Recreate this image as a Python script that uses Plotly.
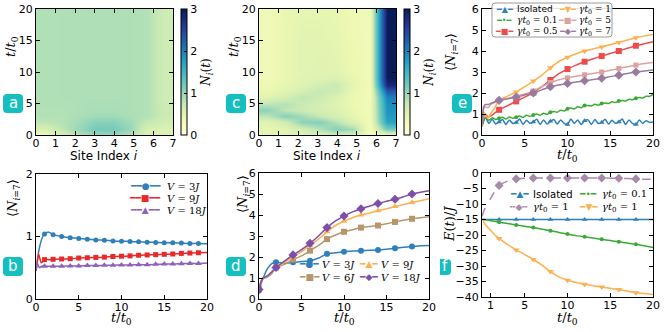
import plotly.graph_objects as go

W, H = 664, 332

# ---------------- data ----------------
site_centers = [0.4375, 1.3125, 2.1875, 3.0625, 3.9375, 4.8125, 5.6875, 6.5625]

heat_t_a = [0, 1, 2, 3, 4, 6, 10, 20]
heat_a = [
    [0.35, 0.60, 0.85, 1.00, 1.00, 0.85, 0.55, 0.55],
    [0.60, 0.80, 1.00, 1.18, 1.18, 1.00, 0.60, 0.55],
    [0.80, 0.85, 0.95, 1.08, 1.08, 0.95, 0.75, 0.65],
    [0.85, 0.85, 0.90, 0.95, 0.95, 0.90, 0.85, 0.70],
    [0.86, 0.86, 0.88, 0.90, 0.90, 0.88, 0.86, 0.70],
    [0.87, 0.88, 0.88, 0.88, 0.88, 0.88, 0.86, 0.68],
    [0.87, 0.88, 0.88, 0.88, 0.88, 0.88, 0.86, 0.68],
    [0.87, 0.88, 0.88, 0.88, 0.88, 0.88, 0.86, 0.68],
]

heat_t_c = [0, 1, 2, 3, 4, 5, 6, 7, 8, 9, 10, 15, 20]
heat_c = [
    [0.45, 0.45, 0.50, 0.55, 0.65, 0.60, 0.20, 0.40],
    [0.45, 0.50, 0.65, 0.85, 1.10, 0.95, 0.25, 1.20],
    [0.50, 0.65, 1.05, 1.10, 0.85, 0.55, 0.30, 1.70],
    [0.80, 1.10, 0.95, 0.75, 0.60, 0.45, 0.30, 1.80],
    [1.05, 0.80, 0.70, 0.62, 0.55, 0.40, 0.30, 1.85],
    [0.80, 0.85, 0.72, 0.62, 0.52, 0.38, 0.30, 1.90],
    [0.50, 0.62, 0.80, 0.70, 0.55, 0.38, 0.30, 2.00],
    [0.40, 0.50, 0.62, 0.76, 0.68, 0.40, 0.30, 2.30],
    [0.35, 0.45, 0.52, 0.62, 0.72, 0.45, 0.30, 2.80],
    [0.32, 0.42, 0.50, 0.52, 0.56, 0.42, 0.30, 3.00],
    [0.30, 0.42, 0.48, 0.50, 0.48, 0.38, 0.30, 3.00],
    [0.30, 0.42, 0.48, 0.48, 0.45, 0.35, 0.30, 3.00],
    [0.30, 0.40, 0.45, 0.45, 0.42, 0.33, 0.30, 3.00],
]

# panel b
b_t = [0, 0.15, 0.3, 0.45, 0.6, 0.8, 1, 1.5, 2, 3, 4, 5, 6, 7, 8, 9, 10,
       11, 12, 13, 14, 15, 16, 17, 18, 19, 20]
b_v3 = [0.45, 0.60, 0.75, 0.85, 0.93, 1.00, 1.04, 1.07, 1.03, 1.00, 0.98, 0.97,
        0.955, 0.945, 0.94, 0.93, 0.925, 0.92, 0.915, 0.91, 0.905, 0.90, 0.90,
        0.895, 0.89, 0.89, 0.885]
b_v9 = [0.45, 0.60, 0.72, 0.65, 0.58, 0.60, 0.63, 0.63, 0.635, 0.64, 0.645,
        0.655, 0.66, 0.665, 0.67, 0.68, 0.685, 0.69, 0.70, 0.705, 0.71, 0.715,
        0.72, 0.73, 0.735, 0.74, 0.745]
b_v18 = [0.45, 0.58, 0.52, 0.50, 0.52, 0.53, 0.525, 0.525, 0.525, 0.525, 0.53,
         0.53, 0.535, 0.535, 0.54, 0.54, 0.545, 0.545, 0.55, 0.55, 0.555, 0.56,
         0.56, 0.565, 0.57, 0.57, 0.575]
b_marks = [1, 2, 3, 4, 5, 6, 7, 8, 9, 10, 11, 12, 13, 14, 15, 16, 17, 18, 19]

# panel d
d_t = [0, 0.15, 0.3, 0.5, 0.75, 1, 1.5, 2, 3, 4, 5, 6, 7, 8, 9, 10, 11, 12,
       13, 14, 15, 16, 17, 18, 19, 20]
d_v3 = [0.40, 0.60, 0.80, 1.00, 1.25, 1.45, 1.68, 1.75, 1.70, 1.75, 1.78, 1.82,
        1.95, 2.15, 2.20, 2.25, 2.28, 2.30, 2.32, 2.33, 2.37, 2.42, 2.47, 2.50,
        2.53, 2.55]
d_v6 = [0.50, 0.70, 0.85, 1.00, 1.00, 1.05, 1.20, 1.50, 1.65, 1.88, 2.05, 2.30,
        2.55, 2.85, 3.05, 3.20, 3.30, 3.40, 3.45, 3.50, 3.58, 3.67, 3.75, 3.82,
        3.87, 3.92]
d_v9 = [0.50, 0.75, 0.90, 1.00, 1.05, 1.10, 1.30, 1.50, 1.75, 2.00, 2.25, 2.55,
        2.85, 3.20, 3.50, 3.70, 3.87, 4.00, 4.10, 4.20, 4.30, 4.40, 4.50, 4.60,
        4.68, 4.77]
d_v18 = [0.45, 0.70, 0.90, 1.00, 1.05, 1.10, 1.30, 1.50, 1.80, 2.10, 2.35, 2.65,
         3.00, 3.40, 3.72, 3.95, 4.15, 4.30, 4.42, 4.55, 4.65, 4.75, 4.87, 5.00,
         5.08, 5.15]
d_marks = [0, 2, 4, 6, 8, 10, 12, 14, 16, 18]

# panel e
e_t_osc = [0.0, 0.4, 0.8, 1.2, 1.6, 2.0, 2.4, 2.8, 3.2, 3.6, 4.0, 4.4, 4.8, 5.2,
           5.6, 6.0, 6.4, 6.8, 7.2, 7.6, 8.0, 8.4, 8.8, 9.2, 9.6, 10.0, 10.4,
           10.8, 11.2, 11.6, 12.0, 12.4, 12.8, 13.2, 13.6, 14.0, 14.4, 14.8,
           15.2, 15.6, 16.0, 16.4, 16.8, 17.2, 17.6, 18.0, 18.4, 18.8, 19.2,
           19.6, 20.0]
e_iso = [0.40, 0.85, 0.55, 0.75, 0.52, 0.62, 0.74, 0.50, 0.72, 0.55, 0.60, 0.76,
         0.50, 0.70, 0.56, 0.62, 0.75, 0.50, 0.72, 0.52, 0.65, 0.74, 0.52, 0.72,
         0.55, 0.50, 0.76, 0.55, 0.72, 0.50, 0.68, 0.72, 0.50, 0.74, 0.55, 0.60,
         0.75, 0.52, 0.70, 0.56, 0.62, 0.76, 0.50, 0.72, 0.55, 0.50, 0.72, 0.55,
         0.68, 0.60, 0.62]
e_g01 = [0.45, 0.85, 0.70, 0.82, 0.74, 0.80, 0.84, 0.76, 0.86, 0.80, 0.85, 0.90,
         0.84, 0.94, 0.88, 0.95, 1.00, 0.94, 1.04, 0.98, 1.08, 1.12, 1.08, 1.18,
         1.14, 1.25, 1.28, 1.24, 1.34, 1.30, 1.40, 1.40, 1.38, 1.46, 1.42, 1.50,
         1.52, 1.50, 1.58, 1.55, 1.62, 1.64, 1.62, 1.70, 1.68, 1.75, 1.78, 1.76,
         1.85, 1.84, 1.93]
e_t = [0, 0.2, 0.4, 0.7, 1, 1.5, 2, 3, 4, 5, 6, 7, 8, 9, 10, 11, 12, 13, 14, 15,
       16, 17, 18, 19, 20]
e_g05 = [0.45, 0.90, 1.00, 0.85, 0.90, 1.05, 1.20, 1.40, 1.60, 1.80, 2.02, 2.30,
         2.62, 2.92, 3.14, 3.33, 3.49, 3.63, 3.76, 3.88, 4.00, 4.13, 4.25, 4.35,
         4.44]
e_g1 = [0.40, 1.10, 0.95, 0.80, 1.00, 1.30, 1.65, 1.85, 2.05, 2.30, 2.57, 2.85,
        3.20, 3.50, 3.70, 3.87, 4.00, 4.10, 4.19, 4.30, 4.41, 4.52, 4.63, 4.72,
        4.79]
e_g5 = [0.50, 1.25, 1.35, 1.30, 1.45, 1.55, 1.65, 1.75, 1.85, 1.95, 2.10, 2.30,
        2.50, 2.63, 2.72, 2.80, 2.87, 2.93, 3.00, 3.08, 3.17, 3.25, 3.33, 3.40,
        3.45]
e_g7 = [0.50, 1.35, 1.45, 1.45, 1.50, 1.58, 1.65, 1.72, 1.80, 1.90, 2.00, 2.15,
        2.30, 2.38, 2.45, 2.52, 2.58, 2.64, 2.70, 2.78, 2.85, 2.93, 3.00, 3.05,
        3.10]
e_marks = [2, 4, 6, 8, 10, 12, 14, 16, 18]

# panel f
f_t = [0, 0.25, 0.5, 1, 1.5, 2, 3, 4, 5, 6, 7, 8, 9, 10, 11, 12, 13, 14, 15,
       16, 17, 18, 19, 20]
f_iso = [-15.0, -15.0, -15.0, -15.0, -15.0, -15.0, -15.0, -15.0, -15.0, -15.0,
         -15.0, -15.0, -15.0, -15.0, -15.0, -15.0, -15.0, -15.0, -15.0, -15.0,
         -15.0, -15.0, -15.0, -15.0]
f_g01 = [-14.8, -15.0, -15.1, -15.4, -15.6, -15.9, -16.3, -16.8, -17.2, -17.6,
         -18.1, -18.6, -19.2, -19.7, -20.2, -20.6, -21.0, -21.4, -21.8, -22.2,
         -22.6, -23.0, -23.5, -24.0]
f_g1_dash = [-14.0, -12.0, -10.5, -8.3, -5.8, -4.0, -2.6, -1.9, -1.7, -1.6, -1.6,
             -1.6, -1.6, -1.6, -1.6, -1.6, -1.6, -1.6, -1.7, -1.7, -1.8, -1.9,
             -2.0, -2.0]
f_g1 = [-14.5, -16.0, -17.0, -18.5, -20.0, -21.1, -23.1, -24.8, -26.3, -27.9,
        -29.7, -31.8, -33.5, -34.6, -35.3, -35.9, -36.4, -36.8, -37.2, -37.6,
        -38.1, -38.6, -38.9, -39.2]
f_marks = [2, 4, 6, 8, 10, 12, 14, 16, 18]

site_ticks = [0, 1, 2, 3, 4, 5, 6, 7]
time_ticks = [0, 5, 10, 15, 20]
f_xticks = [1, 5, 10, 15, 20]
f_yticks = [-40, -35, -30, -25, -20, -15, -10, -5, 0]
f_yticktext = ['−40', '−35', '−30', '−25', '−20', '−15', '−10', '−5', '0']

# ---------------- style ----------------
YLGNBU = [[0.0, '#ffffd9'], [0.125, '#edf8b1'], [0.25, '#c7e9b4'], [0.375, '#7fcdbb'],
          [0.5, '#41b6c4'], [0.625, '#1d91c0'], [0.75, '#225ea8'], [0.875, '#253494'],
          [1.0, '#081d58']]
BLUE = '#2f7fba'
RED = '#e8282b'
PURPLE_B = '#8e62bb'
TAN = '#b8966c'
ORANGE = '#fdb04f'
PURPLE_D = '#7d4fa8'
GREEN = '#3aaa35'
RED_E = '#ee4c4c'
PINK = '#dca29c'
MAUVE = '#9a7ba0'
MAUVE_F = '#a88ba8'
TEAL = '#15bfbf'

SANS = 'DejaVu Sans'
SERIF = 'DejaVu Serif'
TICKFONT = dict(family=SANS, size=11, color='black')


def fx(px):
    return px / W


def fy(py):
    return 1 - py / H


def axis(dom, rng, ticks, anchor, ticktext=None, standoff=0):
    d = dict(domain=dom, range=rng, anchor=anchor, showline=True, linecolor='black',
             linewidth=1, mirror='ticks', ticks='inside', ticklen=4, tickcolor='black',
             tickvals=ticks, tickfont=TICKFONT, showgrid=False, zeroline=False,
             automargin=False, ticklabelstandoff=standoff)
    if ticktext is not None:
        d['ticktext'] = ticktext
    return d


fig = go.Figure()

# panel boxes (pixels): left, top, right, bottom
P = {
    'a': (36, 9, 173, 135),
    'c': (259, 9, 396, 135),
    'e': (482, 9, 653, 135),
    'b': (36, 174, 207, 299),
    'd': (259, 173, 429, 299),
    'f': (482, 173, 653, 297),
}


def xdom(k):
    return [fx(P[k][0]), fx(P[k][2])]


def ydom(k):
    return [fy(P[k][3]), fy(P[k][1])]


def cbar(xpx, k):
    l, t, r, b = P[k]
    return dict(x=fx(xpx), xanchor='left', y=fy((t + b) / 2), yanchor='middle',
                len=(b - t) / H, lenmode='fraction', thickness=6, thicknessmode='pixels',
                xpad=0, ypad=0, outlinecolor='black', outlinewidth=1,
                tickvals=[0, 1, 2, 3], ticks='inside', ticklen=3, tickcolor='black',
                tickfont=TICKFONT,
                title=dict(text='<i>N<sub>i</sub></i>(<i>t</i>)', side='right',
                           font=dict(family=SERIF, size=12, color='black')))


fig.add_trace(go.Heatmap(x=site_centers, y=heat_t_a, z=heat_a, zsmooth='best',
                         colorscale=YLGNBU, zmin=0, zmax=3, xaxis='x', yaxis='y',
                         colorbar=cbar(181, 'a')))
fig.add_trace(go.Heatmap(x=site_centers, y=heat_t_c, z=heat_c, zsmooth='best',
                         colorscale=YLGNBU, zmin=0, zmax=3, xaxis='x2', yaxis='y2',
                         colorbar=cbar(404, 'c')))


def pick(ts, vs, marks):
    mk = set(round(m, 2) for m in marks)
    xs, ys = [], []
    for t, v in zip(ts, vs):
        if round(t, 2) in mk:
            xs.append(t)
            ys.append(v)
    return xs, ys


def series(ts, vs, marks, color, symbol, msize, xa, ya, dash='solid'):
    fig.add_trace(go.Scatter(x=ts, y=vs, mode='lines', line=dict(color=color, width=1.5,
                             shape='spline', smoothing=0.6, dash=dash),
                             xaxis=xa, yaxis=ya, showlegend=False, hoverinfo='skip'))
    mx, my = pick(ts, vs, marks)
    fig.add_trace(go.Scatter(x=mx, y=my, mode='markers',
                             marker=dict(color=color, symbol=symbol, size=msize),
                             xaxis=xa, yaxis=ya, showlegend=False))


# panel b
series(b_t, b_v3, b_marks, BLUE, 'circle', 5, 'x4', 'y4')
series(b_t, b_v9, b_marks, RED, 'square', 5, 'x4', 'y4')
series(b_t, b_v18, b_marks, PURPLE_B, 'triangle-up', 6, 'x4', 'y4')
# panel d
series(d_t, d_v3, d_marks, BLUE, 'circle', 6, 'x5', 'y5')
series(d_t, d_v6, d_marks, TAN, 'square', 6, 'x5', 'y5')
series(d_t, d_v9, d_marks, ORANGE, 'triangle-up', 6, 'x5', 'y5')
series(d_t, d_v18, d_marks, PURPLE_D, 'diamond', 7, 'x5', 'y5')
# panel e
series(e_t_osc, e_iso, e_marks, BLUE, 'triangle-up', 5, 'x3', 'y3')
series(e_t_osc, e_g01, e_marks, GREEN, 'circle', 4, 'x3', 'y3')
series(e_t, e_g05, e_marks, RED_E, 'square', 6, 'x3', 'y3')
series(e_t, e_g1, e_marks, ORANGE, 'triangle-down', 6, 'x3', 'y3')
series(e_t, e_g5, e_marks, PINK, 'square', 5, 'x3', 'y3')
series(e_t, e_g7, e_marks, MAUVE, 'diamond', 7, 'x3', 'y3')
# panel f
series(f_t, f_iso, f_marks, BLUE, 'triangle-up', 5, 'x6', 'y6')
series(f_t, f_g1_dash, f_marks, MAUVE_F, 'diamond', 7, 'x6', 'y6', dash='dash')
series(f_t, f_g01, f_marks, GREEN, 'circle', 4, 'x6', 'y6')
series(f_t, f_g1, f_marks, ORANGE, 'triangle-down', 6, 'x6', 'y6')

XS = -2  # x tick labels close to the frame, as in the reference
layout = dict(
    width=W, height=H, margin=dict(l=0, r=0, t=0, b=0, autoexpand=False),
    paper_bgcolor='white', plot_bgcolor='white', showlegend=False,
    xaxis=axis(xdom('a'), [0, 7], site_ticks, 'y', standoff=XS),
    yaxis=axis(ydom('a'), [0, 20], time_ticks, 'x'),
    xaxis2=axis(xdom('c'), [0, 7], site_ticks, 'y2', standoff=XS),
    yaxis2=axis(ydom('c'), [0, 20], time_ticks, 'x2'),
    xaxis3=axis(xdom('e'), [0, 20], time_ticks, 'y3', standoff=XS),
    yaxis3=axis(ydom('e'), [0, 6], [0, 1, 2, 3, 4, 5, 6], 'x3'),
    xaxis4=axis(xdom('b'), [0, 20], time_ticks, 'y4', standoff=XS),
    yaxis4=axis(ydom('b'), [0, 2], [0, 1, 2], 'x4'),
    xaxis5=axis(xdom('d'), [0, 20], time_ticks, 'y5', standoff=XS),
    yaxis5=axis(ydom('d'), [0, 6], [0, 1, 2, 3, 4, 5, 6], 'x5'),
    xaxis6=axis(xdom('f'), [0, 20], f_xticks, 'y6', standoff=XS),
    yaxis6=axis(ydom('f'), [-40, 0], f_yticks, 'x6', ticktext=f_yticktext),
)
fig.update_layout(**layout)

ann = []
shapes = []
XT = dict(family=SERIF, size=13, color='black')


def add_text(xpx, ypx, text, font, angle=0, xanchor='center'):
    ann.append(dict(x=fx(xpx), y=fy(ypx), xref='paper', yref='paper', text=text,
                    showarrow=False, font=font, textangle=angle,
                    xanchor=xanchor, yanchor='middle', borderpad=0))


# axis titles
TT = '<i>t</i>/<i>t</i><sub>0</sub>'
NI7 = '⟨<i>N</i><sub><i>i</i>=7</sub>⟩'
SITE = 'Site Index <i>i</i>'
SITEF = dict(family=SANS, size=12, color='black')
add_text(104, 156, SITE, SITEF)
add_text(327, 156, SITE, SITEF)
add_text(567, 155, TT, XT)
add_text(121, 318, TT, XT)
add_text(344, 318, TT, XT)
add_text(567, 318, TT, XT)
add_text(12, 47, TT, XT, -90)
add_text(235, 47, TT, XT, -90)
add_text(452, 52, NI7, XT, -90)
add_text(13, 198, NI7, XT, -90)
add_text(243, 194, NI7, XT, -90)
add_text(450, 224, '<i>E</i>(<i>t</i>)/<i>J</i>', XT, -90)


# badges
def rrect(x0, y0, x1, y1, r=4, square_left=False, fill=TEAL, line=None):
    def p(x, y):
        return f'{fx(x):.5f},{fy(y):.5f}'
    if square_left:
        path = (f'M {p(x0, y0)} L {p(x1 - r, y0)} Q {p(x1, y0)} {p(x1, y0 + r)} '
                f'L {p(x1, y1 - r)} Q {p(x1, y1)} {p(x1 - r, y1)} L {p(x0, y1)} Z')
    else:
        path = (f'M {p(x0 + r, y0)} L {p(x1 - r, y0)} Q {p(x1, y0)} {p(x1, y0 + r)} '
                f'L {p(x1, y1 - r)} Q {p(x1, y1)} {p(x1 - r, y1)} L {p(x0 + r, y1)} '
                f'Q {p(x0, y1)} {p(x0, y1 - r)} L {p(x0, y0 + r)} Q {p(x0, y0)} {p(x0 + r, y0)} Z')
    shapes.append(dict(type='path', path=path, xref='paper', yref='paper',
                       fillcolor=fill, line=line or dict(width=0), layer='above'))


BF = dict(family=SANS, size=15, color='white')
for lbl, (x0, y0, x1, y1) in {'a': (3, 94, 23, 113), 'c': (226, 94, 246, 113),
                               'e': (452, 94, 472, 113), 'b': (3, 257, 23, 276),
                               'd': (226, 257, 246, 276)}.items():
    rrect(x0, y0, x1, y1)
    add_text((x0 + x1) / 2, (y0 + y1) / 2 - 1, lbl, BF)
rrect(440, 259, 451, 275, square_left=True)
add_text(445, 266, 'f', BF)

# legend frame for panel e
rrect(492, 3, 612, 37, r=3, fill='rgba(255,255,255,0.9)',
      line=dict(color='#9a9a9a', width=1))

# text legends: glyph (coloured) + label
GF = 'DejaVu Sans'
LF = dict(family=SERIF, size=10, color='black')
LFS = dict(family=SANS, size=10, color='black')
LF9 = dict(family=SERIF, size=9, color='black')
LFS9 = dict(family=SANS, size=9, color='black')


def legend_entry(xg, y, xt, glyph, color, label, font=LF, gsize=9):
    add_text(xg, y, glyph, dict(family=GF, size=gsize, color=color))
    add_text(xt, y, label, font, xanchor='left')


def g(marker, n=2, line='━'):
    return line * n + marker + line * n


V = '<i>V</i> = {}<i>J</i>'
GT = '<i>γt</i><sub>0</sub> = {}'

# b
legend_entry(145, 186, 166, g('●'), BLUE, V.format(3))
legend_entry(145, 198, 166, g('■'), RED, V.format(9))
legend_entry(145, 210, 166, g('▲'), PURPLE_B, V.format(18))
# d
legend_entry(309, 264, 321, g('●', 1), BLUE, V.format(3))
legend_entry(309, 277, 321, g('■', 1), TAN, V.format(6))
legend_entry(368, 264, 380, g('▲', 1), ORANGE, V.format(9))
legend_entry(368, 277, 380, g('◆', 1), PURPLE_D, V.format(18))
# e
legend_entry(504, 9, 516, g('▲', 1), BLUE, 'Isolated', LFS9, gsize=8)
legend_entry(504, 20.5, 516, g('•', 1), GREEN, GT.format('0.1'), LF9, gsize=8)
legend_entry(504, 32, 516, g('■', 1), RED_E, GT.format('0.5'), LF9, gsize=8)
legend_entry(567, 9, 578, g('▼', 1), ORANGE, GT.format('1'), LF9, gsize=8)
legend_entry(567, 20.5, 578, g('■', 1), PINK, GT.format('5'), LF9, gsize=8)
legend_entry(567, 32, 578, g('◆', 1), MAUVE, GT.format('7'), LF9, gsize=8)
# f
legend_entry(519, 194, 532, g('▲', 1), BLUE, 'Isolated', LFS)
legend_entry(519, 207, 532, g('◆', 1, '╍'), MAUVE_F, GT.format('1'))
legend_entry(588, 194, 601, g('•', 1), GREEN, GT.format('0.1'))
legend_entry(588, 207, 601, g('▼', 1), ORANGE, GT.format('1'))

fig.update_layout(annotations=ann, shapes=shapes)
fig.write_html('out.html', config={'displayModeBar': False},
               post_script="document.body.style.margin='0';document.body.style.overflow='hidden';")
